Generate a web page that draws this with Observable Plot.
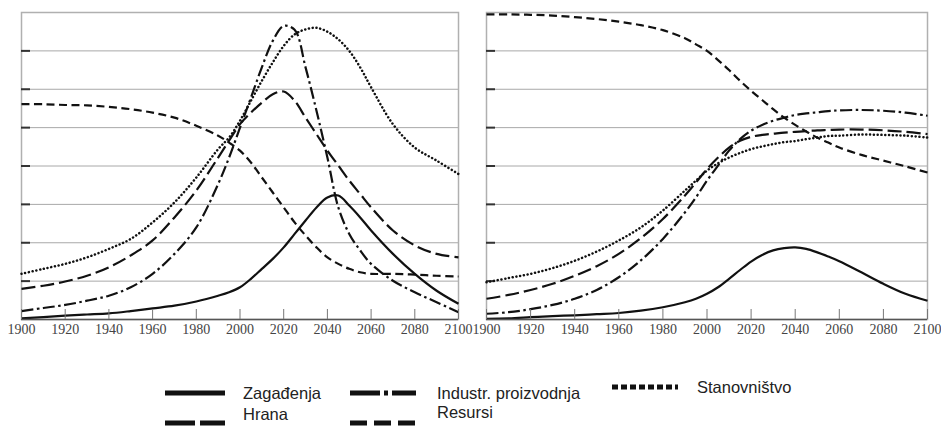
<!DOCTYPE html>
<html><head><meta charset="utf-8">
<script src="https://cdn.jsdelivr.net/npm/d3@7"></script>
<script src="https://cdn.jsdelivr.net/npm/@observablehq/plot@0.6"></script>
<style>
html,body{margin:0;padding:0;background:#fff;overflow:hidden;width:941px;height:426px}
#wrap{position:relative;width:941px;height:426px}
#left{position:absolute;left:0;top:0}
#right{position:absolute;left:470px;top:0}
#legend{position:absolute;left:0;top:340px;overflow:hidden}
svg{overflow:visible}
</style></head><body>
<div id="wrap"><div id="left"></div><div id="right"></div><svg id="legend" width="941" height="86"></svg></div>
<script>
const years = [1900,1910,1920,1930,1940,1950,1960,1970,1980,1990,1995,2000,2005,2010,2015,2020,2025,2030,2035,2040,2045,2050,2055,2060,2070,2080,2090,2100];
const xTicks = [1900,1920,1940,1960,1980,2000,2020,2040,2060,2080,2100];
const gridLevels = [1,2,3,4,5,6,7];
const seriesNames = ["Zagađenja","Industr. proizvodnja","Stanovništvo","Hrana","Resursi"];

// Left panel
const leftZagadjenja = [0.03,0.06,0.10,0.13,0.16,0.22,0.29,0.36,0.47,0.62,0.71,0.84,1.06,1.32,1.58,1.88,2.23,2.58,2.92,3.18,3.23,2.97,2.66,2.32,1.71,1.19,0.75,0.41];
const leftIndustrija = [0.22,0.30,0.38,0.49,0.62,0.84,1.19,1.71,2.40,3.53,4.22,5.00,5.78,6.57,7.26,7.65,7.55,6.57,5.44,4.22,2.92,2.23,1.80,1.45,1.01,0.71,0.45,0.19];
const leftStanovnistvo = [1.19,1.32,1.45,1.62,1.84,2.10,2.53,3.05,3.70,4.44,4.74,5.18,5.70,6.22,6.70,7.13,7.43,7.56,7.60,7.50,7.30,7.00,6.57,6.05,5.09,4.48,4.14,3.79];
const leftHrana = [0.80,0.88,0.99,1.14,1.36,1.67,2.06,2.66,3.36,4.22,4.66,5.09,5.39,5.65,5.87,5.94,5.70,5.26,4.83,4.40,4.01,3.62,3.27,2.92,2.32,1.93,1.71,1.62];
const leftResursi = [5.61,5.61,5.59,5.58,5.54,5.48,5.39,5.26,5.05,4.79,4.61,4.40,4.09,3.70,3.31,2.92,2.53,2.19,1.88,1.62,1.45,1.32,1.23,1.19,1.19,1.17,1.14,1.12];

// Right panel
const rightZagadjenja = [0.02,0.03,0.06,0.09,0.11,0.14,0.17,0.23,0.32,0.45,0.54,0.67,0.84,1.06,1.29,1.51,1.68,1.80,1.86,1.88,1.84,1.75,1.64,1.52,1.23,0.93,0.67,0.49];
const rightIndustrija = [0.15,0.19,0.27,0.38,0.54,0.77,1.10,1.54,2.10,2.79,3.18,3.62,4.01,4.40,4.70,4.92,5.07,5.18,5.26,5.33,5.37,5.40,5.43,5.45,5.46,5.44,5.39,5.31];
const rightStanovnistvo = [0.97,1.08,1.19,1.34,1.53,1.77,2.06,2.40,2.84,3.36,3.62,3.88,4.07,4.22,4.34,4.44,4.51,4.57,4.62,4.65,4.70,4.74,4.78,4.79,4.82,4.81,4.79,4.74];
const rightHrana = [0.54,0.64,0.77,0.93,1.14,1.39,1.71,2.12,2.62,3.23,3.57,3.92,4.22,4.48,4.66,4.76,4.81,4.84,4.87,4.89,4.91,4.93,4.94,4.95,4.95,4.93,4.89,4.83];
const rightResursi = [7.95,7.95,7.94,7.92,7.88,7.83,7.76,7.67,7.54,7.33,7.17,7.00,6.76,6.50,6.22,5.96,5.72,5.48,5.26,5.07,4.90,4.74,4.61,4.48,4.29,4.14,3.99,3.83];

const lineStyles = [
  {dash: "none", width: 2.2, cap: "butt"},
  {dash: "12,3.5,2.5,3.5", width: 2.2, cap: "butt"},
  {dash: "0.1,3.7", width: 2.5, cap: "round"},
  {dash: "14,5", width: 2.2, cap: "butt"},
  {dash: "8,4.5", width: 2.2, cap: "butt"}
];
const legendDashes = ["none", "30,4,4,4,30", "6,3", "30,5", "17,7"];

function panel(series, width, marginLeft, marginRight) {
  const lineMarks = series.map((vals, i) => {
    const data = years.map((yr, j) => ({year: yr, value: vals[j]}));
    return Plot.line(data, {x: "year", y: "value", stroke: "#111", strokeWidth: lineStyles[i].width,
      strokeDasharray: lineStyles[i].dash, curve: "catmull-rom", strokeLinecap: lineStyles[i].cap});
  });
  return Plot.plot({
    width, height: 340, marginLeft, marginRight, marginTop: 12, marginBottom: 21,
    x: {domain: [1900, 2100]}, y: {domain: [0, 8]},
    style: {background: "transparent", overflow: "visible"},
    marks: [
      Plot.ruleY(gridLevels, {stroke: "#a8a8a8", strokeWidth: 1}),
      Plot.frame({stroke: "#b0b0b0", strokeWidth: 1.5}),
      Plot.axisY({ticks: gridLevels, tickSize: -9, tickFormat: () => "", color: "#333", strokeWidth: 2, label: null}),
      ...lineMarks,
      Plot.ruleY([0], {stroke: "#555", strokeWidth: 1.5}),
      Plot.axisX({ticks: xTicks, tickSize: -10, tickFormat: () => "", color: "#777", label: null}),
      Plot.axisX({ticks: xTicks, tickSize: 0, tickPadding: 5, tickFormat: d => String(d),
        fontFamily: "Liberation Serif, DejaVu Serif, serif", fontSize: 14, color: "#444", label: null})
    ]
  });
}

document.getElementById("left").append(panel([leftZagadjenja, leftIndustrija, leftStanovnistvo, leftHrana, leftResursi], 470, 21, 12));
document.getElementById("right").append(panel([rightZagadjenja, rightIndustrija, rightStanovnistvo, rightHrana, rightResursi], 471, 16, 14));

// Legend (positions relative to legend svg at top 340)
const legendPos = [
  {x: 165, y: 53, tx: 243, ty: 53},   // Zagađenja
  {x: 350, y: 53, tx: 437, ty: 53},   // Industr.
  {x: 612, y: 47, tx: 697, ty: 47},   // Stanovništvo
  {x: 165, y: 83, tx: 243, ty: 74},   // Hrana
  {x: 350, y: 83, tx: 437, ty: 72}    // Resursi
];
const lg = d3.select("#legend");
seriesNames.forEach((name, i) => {
  const p = legendPos[i];
  lg.append("line").attr("x1", p.x).attr("x2", p.x + (i === 0 || i === 3 ? 60 : 66))
    .attr("y1", p.y).attr("y2", p.y).attr("stroke", "#111").attr("stroke-width", 5)
    .attr("stroke-dasharray", legendDashes[i]);
  lg.append("text").attr("x", p.tx).attr("y", p.ty).attr("dy", "0.35em")
    .attr("font-family", "Liberation Sans, Arial, sans-serif").attr("font-size", 16.5)
    .attr("fill", "#222").text(name);
});
</script>
</body></html>
